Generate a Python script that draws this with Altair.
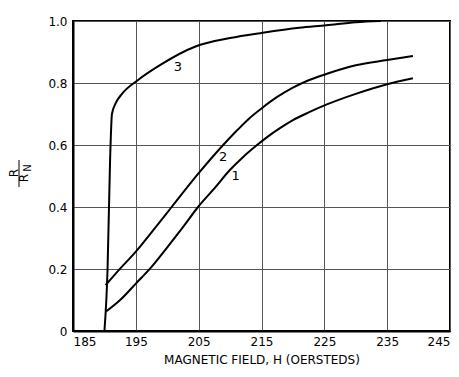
import altair as alt
import pandas as pd

# Curve 1
h1 = [190.2, 192.5, 195, 197.5, 200, 202.5, 204.9, 207.5, 210, 212, 214, 216, 218, 220, 222.5, 225.3, 230, 235, 239.1]
r1 = [0.062, 0.1, 0.153, 0.207, 0.27, 0.335, 0.40, 0.46, 0.52, 0.56, 0.595, 0.627, 0.655, 0.68, 0.705, 0.73, 0.765, 0.796, 0.815]
# Curve 2
h2 = [190.2, 192, 195, 198, 200.7, 205, 208.9, 211, 213, 215, 217.5, 220, 222.5, 225.3, 230, 235, 239.1]
r2 = [0.148, 0.19, 0.256, 0.331, 0.4, 0.509, 0.6, 0.645, 0.685, 0.718, 0.755, 0.785, 0.809, 0.829, 0.857, 0.874, 0.887]
# Curve 3
h3 = [190.0, 190.5, 190.9, 191.2, 191.8, 192.8, 195.3, 199.1, 204.4, 210, 215.2, 221, 225.3, 230, 234]
r3 = [0.0, 0.2, 0.55, 0.70, 0.735, 0.765, 0.809, 0.861, 0.917, 0.945, 0.962, 0.978, 0.986, 0.996, 1.0]

# Curve labels
lab_text = ["1", "2", "3"]
lab_h = [210.9, 208.9, 201.7]
lab_r = [0.50, 0.56, 0.853]

x_ticks = [185, 195, 205, 215, 225, 235, 245]
y_ticks = [0, 0.2, 0.4, 0.6, 0.8, 1.0]

rows = []
for name, hs, rs in (("1", h1, r1), ("2", h2, r2), ("3", h3, r3)):
    for i, (h, r) in enumerate(zip(hs, rs)):
        rows.append({"curve": name, "H": h, "R": r, "i": i})
df = pd.DataFrame(rows)
labels = pd.DataFrame({"t": lab_text, "H": lab_h, "R": lab_r})

FONT = "DejaVu Sans"

xs = alt.Scale(domain=[185, 245], nice=False)
ys = alt.Scale(domain=[0, 1], nice=False)

lines = alt.Chart(df).mark_line(color="black", strokeWidth=2, interpolate="monotone").encode(
    x=alt.X("H:Q", scale=xs,
            axis=alt.Axis(values=x_ticks, title="MAGNETIC FIELD, H (OERSTEDS)", ticks=False,
                          labelPadding=5, titlePadding=7, format="d")),
    y=alt.Y("R:Q", scale=ys,
            axis=alt.Axis(values=y_ticks, title=None, ticks=False, labelPadding=6,
                          labelExpr="datum.value == 0 ? '0' : format(datum.value, '.1f')")),
    detail="curve:N",
    order="i:Q",
)

curve_labels = alt.Chart(labels).mark_text(font=FONT, fontSize=13, color="black").encode(
    x=alt.X("H:Q", scale=xs), y=alt.Y("R:Q", scale=ys), text="t:N"
)

def txt(s, x, y, size=12):
    return alt.Chart(pd.DataFrame({"t": [s]})).mark_text(
        font=FONT, fontSize=size, angle=270, color="black", baseline="middle", align="center"
    ).encode(x=alt.value(x), y=alt.value(y), text="t:N")

num = txt("R", -59, 152)
den = txt("R", -49, 157)
sub = txt("N", -45, 147, 10)
bar = alt.Chart(pd.DataFrame({"t": [0]})).mark_rule(color="black", strokeWidth=1).encode(
    x=alt.value(-54), y=alt.value(139), y2=alt.value(166)
)

chart = alt.layer(lines, curve_labels, num, den, sub, bar).properties(
    width=377, height=310,
    autosize=alt.AutoSizeParams(type="none"),
    padding={"left": 65, "top": 13, "right": 1, "bottom": 36},
).configure_view(
    stroke="black", strokeWidth=2
).configure_axis(
    domainColor="black", domainWidth=2,
    gridColor="#555555", gridWidth=1, gridOpacity=1,
    labelFont=FONT, labelFontSize=12, labelColor="black",
    titleFont=FONT, titleFontSize=12, titleFontWeight="normal", titleColor="black",
)

chart.save("out.html", embed_options={"renderer": "svg", "actions": False})
